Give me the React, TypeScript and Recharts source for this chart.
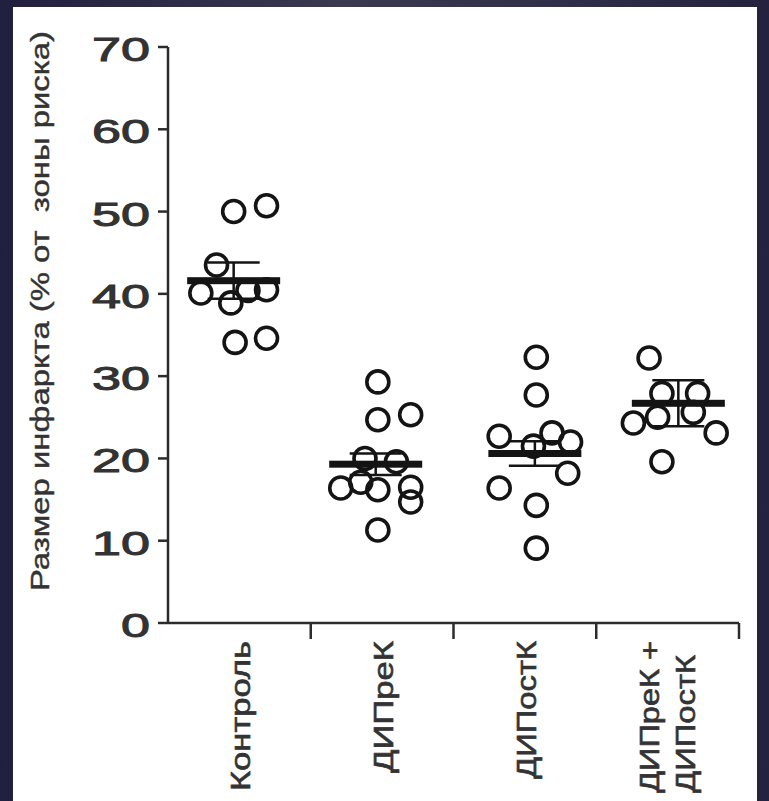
import { ErrorBar, Label, Scatter, ScatterChart, XAxis, YAxis } from 'recharts'

// группы и подписи оси X ("\n" — перенос строки в подписи)
const groupLabels = ['Контроль', 'ДИПреК', 'ДИПостК', 'ДИПреК +\nДИПостК']
const yTicks = [0, 10, 20, 30, 40, 50, 60, 70]
const xTicks = [1, 1.5, 2, 2.5, 3, 3.5, 4, 4.5]

// отдельные животные: x — позиция группы с разбросом, y — размер инфаркта
const kontrolX = [0.96, 1.19, 0.84, 0.73, 0.94, 1.19, 1.06, 0.97, 1.19]
const kontrolY = [50.0, 50.7, 43.5, 40.1, 38.9, 40.5, 40.4, 34.1, 34.6]
const diprekX = [1.97, 1.97, 2.2, 1.71, 1.85, 1.97, 2.2, 2.2, 1.97, 1.88, 2.1]
const diprekY = [29.3, 24.7, 25.3, 16.4, 17.1, 16.2, 16.5, 14.7, 11.3, 20.0, 19.6]
const dipostkX = [3.08, 3.08, 2.82, 3.19, 3.32, 3.3, 2.82, 3.08, 3.08, 3.06]
const dipostkY = [32.3, 27.7, 22.7, 23.1, 22.0, 18.2, 16.4, 14.3, 9.1, 21.5]
const kombiX = [3.87, 3.76, 3.93, 3.96, 4.21, 4.18, 4.34, 3.96]
const kombiY = [32.2, 24.3, 25.0, 27.9, 27.9, 25.6, 23.1, 19.6]

// среднее ± SEM
const meanX = [0.96, 1.955, 3.07, 4.075]
const meanY = [41.6, 19.3, 20.6, 26.7]
const semY = [2.2, 1.3, 1.5, 2.8]

const INK = '#141414'
const AXIS = '#2c2c2c'
const TEXT = '#333333'
const FONT = '"Liberation Sans", Arial, sans-serif'

// длины подписей, подобраны под картинку
const labelLen: Record<string, number> = {
  Контроль: 150,
  ДИПреК: 132,
  ДИПостК: 138,
  'ДИПреК +': 152,
}

const zip = (xs: number[], ys: number[]) => ys.map((y, i) => ({ x: xs[i], y }))

const Ring = (props: any) => (
  <circle cx={props.cx} cy={props.cy} r={11} fill="none" stroke={INK} strokeWidth={3.6} />
)

const MeanBar = (props: any) => (
  <rect x={props.cx - 46.5} y={props.cy - 3.5} width={93} height={7} fill={INK} />
)

function YTick({ x, y, payload }: any) {
  const s = String(payload.value)
  return (
    <text
      x={x - 6}
      y={y + 2}
      textAnchor="end"
      dominantBaseline="central"
      fontSize={34}
      fontFamily={FONT}
      fill={TEXT}
      stroke={TEXT}
      strokeWidth={1}
      textLength={s.length * 29}
      lengthAdjust="spacingAndGlyphs"
    >
      {s}
    </text>
  )
}

function XTick({ x, y, payload }: any) {
  const v = payload.value as number
  if (!Number.isInteger(v)) {
    return <line x1={x} x2={x} y1={y} y2={y + 16} stroke={AXIS} strokeWidth={2.5} />
  }
  const lines = groupLabels[v - 1].split('\n')
  return (
    <g>
      {lines.map((line, i) => {
        const lx = lines.length > 1 ? x - 18 + i * 36 : x + 2
        const top = y + (i === 0 ? 18 : 32)
        return (
          <text
            key={line}
            x={lx}
            y={top}
            transform={`rotate(-90 ${lx} ${top})`}
            textAnchor="end"
            dominantBaseline="central"
            fontSize={27}
            fontFamily={FONT}
            fill={TEXT}
            stroke={TEXT}
            strokeWidth={0.6}
            textLength={labelLen[line]}
            lengthAdjust="spacingAndGlyphs"
          >
            {line}
          </text>
        )
      })}
    </g>
  )
}

const YTitle = ({ viewBox }: any) => {
  const cx = viewBox.x + 40
  const cy = viewBox.y + 264
  return (
    <text
      x={cx}
      y={cy}
      transform={`rotate(-90 ${cx} ${cy})`}
      textAnchor="middle"
      dominantBaseline="central"
      fontSize={26}
      fontFamily={FONT}
      fill={TEXT}
      stroke={TEXT}
      strokeWidth={0.4}
      textLength={560}
      lengthAdjust="spacingAndGlyphs"
      style={{ whiteSpace: 'pre' }}
    >
      Размер инфаркта (% от  зоны риска)
    </text>
  )
}

export default function App() {
  const groups = [zip(kontrolX, kontrolY), zip(diprekX, diprekY), zip(dipostkX, dipostkY), zip(kombiX, kombiY)]
  const means = meanY.map((y, i) => ({ x: meanX[i], y, sem: semY[i] }))

  return (
    <div
      style={{
        position: 'absolute',
        left: 0,
        top: 0,
        width: 769,
        height: 801,
        background: 'linear-gradient(90deg, #211f3e 0%, #3a3950 45%, #2f2e48 75%, #24223f 100%)',
      }}
    >
      <div style={{ position: 'absolute', left: 13, top: 7, width: 744, height: 794, background: '#fff' }} />
      <div style={{ position: 'absolute', left: 0, top: 0 }}>
        <ScatterChart width={769} height={801} margin={{ top: 47, right: 30, bottom: 0, left: 0 }}>
          <XAxis
            type="number"
            dataKey="x"
            domain={[0.5, 4.5]}
            ticks={xTicks}
            interval={0}
            tick={<XTick />}
            tickLine={false}
            tickSize={0}
            tickMargin={0}
            height={178}
            axisLine={{ stroke: AXIS, strokeWidth: 2.5 }}
          />
          <YAxis
            type="number"
            dataKey="y"
            domain={[0, 70]}
            ticks={yTicks}
            interval={0}
            width={168}
            tick={<YTick />}
            tickSize={10}
            tickLine={{ stroke: AXIS, strokeWidth: 2.5 }}
            axisLine={{ stroke: AXIS, strokeWidth: 2.5 }}
          >
            <Label content={YTitle} />
          </YAxis>
          {groups.map((d, i) => (
            <Scatter key={i} data={d} shape={Ring} isAnimationActive={false} />
          ))}
          <Scatter data={means} shape={MeanBar} isAnimationActive={false}>
            <ErrorBar dataKey="sem" direction="y" width={26} stroke={INK} strokeWidth={2.5} />
          </Scatter>
        </ScatterChart>
      </div>
    </div>
  )
}
